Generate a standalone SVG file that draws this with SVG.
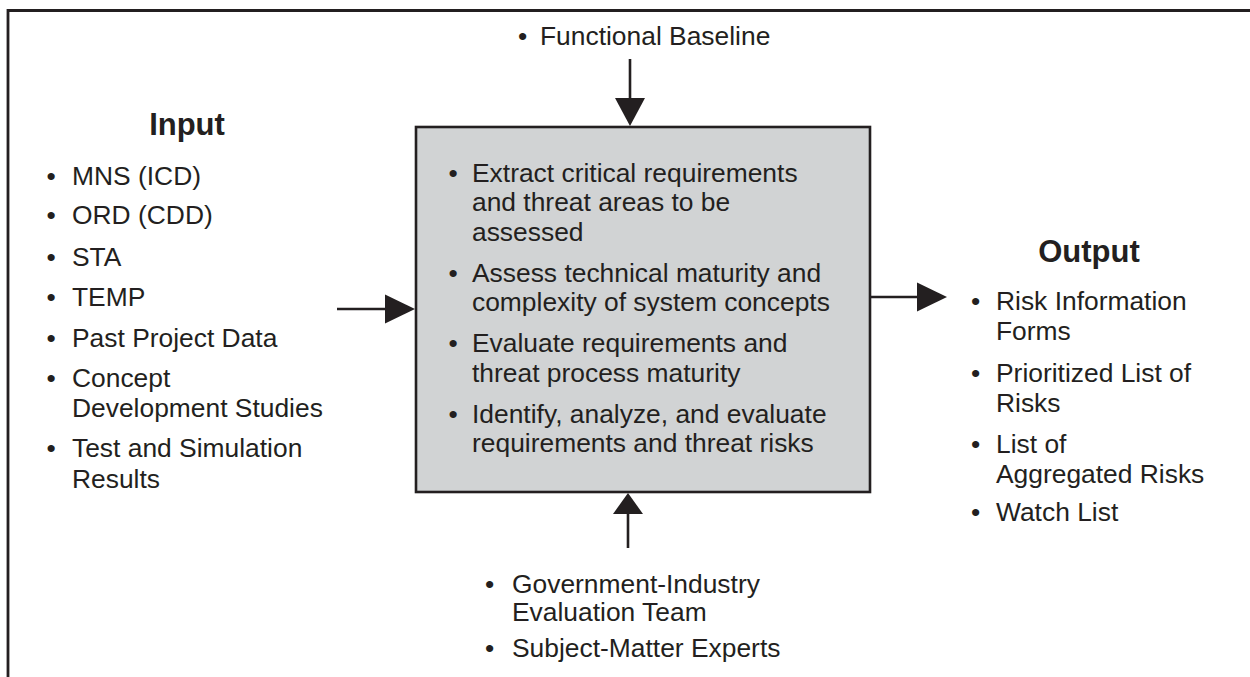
<svg xmlns="http://www.w3.org/2000/svg" width="1250" height="677" viewBox="0 0 1250 677">
<style>
text{font-family:"Liberation Sans",Arial,sans-serif;fill:#231f20;font-size:26.4px}
.title{font-weight:bold;font-size:31px;text-anchor:middle}
.frame{fill:none;stroke:#231f20;stroke-width:2.8}
.conn{stroke:#231f20;stroke-width:2.6;fill:none}
.head{fill:#231f20}
</style>
<rect width="1250" height="677" fill="#ffffff"/>
<g id="frame">
<path class="frame" d="M8,677 V10.5 H1250"/>
</g>
<g id="process">
<rect x="416" y="127" width="454" height="365" fill="#d1d3d4" stroke="#231f20" stroke-width="2.6"/>
<text x="448.5" y="182">•</text><text x="472" y="182">Extract critical requirements</text>
<text x="472" y="211">and threat areas to be</text>
<text x="472" y="241">assessed</text>
<text x="448.5" y="282">•</text><text x="472" y="282">Assess technical maturity and</text>
<text x="472" y="311">complexity of system concepts</text>
<text x="448.5" y="352">•</text><text x="472" y="352">Evaluate requirements and</text>
<text x="472" y="382">threat process maturity</text>
<text x="448.5" y="423">•</text><text x="472" y="423">Identify, analyze, and evaluate</text>
<text x="472" y="452">requirements and threat risks</text>
</g>
<g id="input">
<text class="title" x="187" y="135">Input</text>
<text x="46.5" y="185">•</text><text x="72" y="185">MNS (ICD)</text>
<text x="46.5" y="224">•</text><text x="72" y="224">ORD (CDD)</text>
<text x="46.5" y="266">•</text><text x="72" y="266">STA</text>
<text x="46.5" y="306">•</text><text x="72" y="306">TEMP</text>
<text x="46.5" y="347">•</text><text x="72" y="347">Past Project Data</text>
<text x="46.5" y="387">•</text><text x="72" y="387">Concept</text>
<text x="72" y="417">Development Studies</text>
<text x="46.5" y="457">•</text><text x="72" y="457">Test and Simulation</text>
<text x="72" y="488">Results</text>
</g>
<g id="output">
<text class="title" x="1089" y="262">Output</text>
<text x="971" y="310">•</text><text x="996" y="310">Risk Information</text>
<text x="996" y="340">Forms</text>
<text x="971" y="382">•</text><text x="996" y="382">Prioritized List of</text>
<text x="996" y="412">Risks</text>
<text x="971" y="453">•</text><text x="996" y="453">List of</text>
<text x="996" y="483">Aggregated Risks</text>
<text x="971" y="521">•</text><text x="996" y="521">Watch List</text>
</g>
<g id="control">
<text x="518" y="45">•</text><text x="540" y="45">Functional Baseline</text>
</g>
<g id="mechanism">
<text x="485" y="593">•</text><text x="512" y="593">Government-Industry</text>
<text x="512" y="621">Evaluation Team</text>
<text x="485" y="657">•</text><text x="512" y="657">Subject-Matter Experts</text>
</g>
<g id="connectors">
<line class="conn" x1="337" y1="309" x2="390" y2="309"/>
<polygon class="head" points="385,294.5 415,309 385,323.5"/>
<line class="conn" x1="870" y1="297" x2="920" y2="297"/>
<polygon class="head" points="917,282.5 947,297 917,311.5"/>
<line class="conn" x1="630" y1="59" x2="630" y2="102"/>
<polygon class="head" points="615,98 645,98 630,126"/>
<line class="conn" x1="628" y1="548" x2="628" y2="510"/>
<polygon class="head" points="613,514 643,514 628,493"/>
</g>
</svg>
